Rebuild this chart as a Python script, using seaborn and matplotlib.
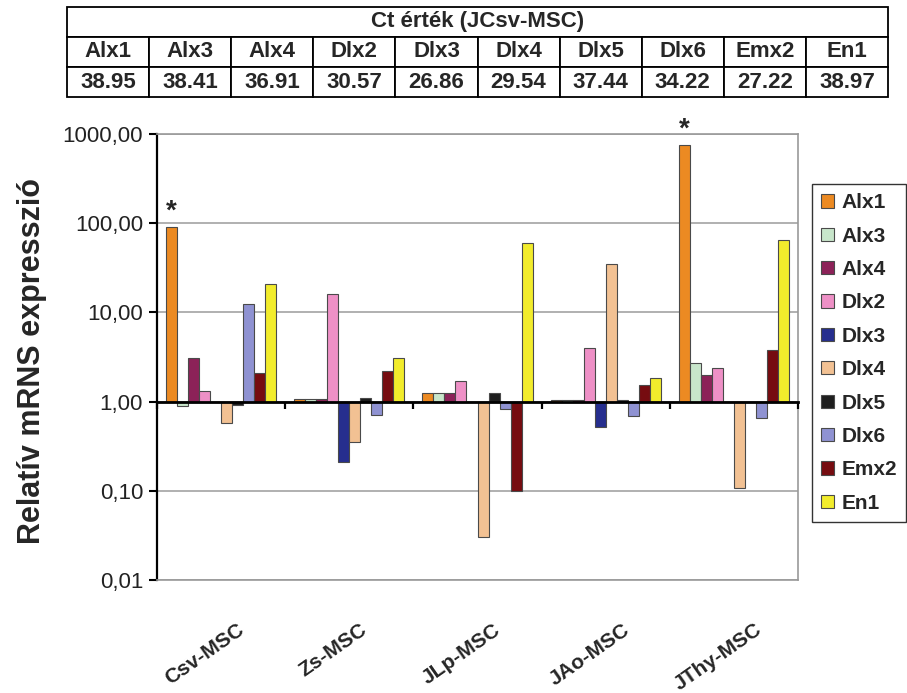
import numpy as np
import pandas as pd
import matplotlib
matplotlib.use("Agg")
import matplotlib.pyplot as plt
import matplotlib.transforms as mtransforms
import seaborn as sns

# ---------------- data ----------------
groups = ["Csv-MSC", "Zs-MSC", "JLp-MSC", "JAo-MSC", "JThy-MSC"]
genes = ["Alx1", "Alx3", "Alx4", "Dlx2", "Dlx3", "Dlx4", "Dlx5", "Dlx6", "Emx2", "En1"]

csv_msc = [90.0, 0.90, 3.1, 1.3, 1.0, 0.57, 0.92, 12.5, 2.1, 21.0]
zs_msc = [1.06, 1.06, 1.06, 16.0, 0.21, 0.355, 1.1, 0.71, 2.2, 3.1]
jlp_msc = [1.26, 1.26, 1.26, 1.7, 1.0, 0.030, 1.26, 0.82, 0.10, 60.0]
jao_msc = [1.03, 1.03, 1.03, 3.95, 0.515, 35.0, 1.03, 0.69, 1.53, 1.85]
jthy_msc = [750.0, 2.73, 2.0, 2.4, 1.0, 0.108, 1.0, 0.66, 3.75, 65.0]
series_values = [csv_msc, zs_msc, jlp_msc, jao_msc, jthy_msc]

star_groups = ["Csv-MSC", "JThy-MSC"]

ct_title = "Ct érték (JCsv-MSC)"
ct_values = [38.95, 38.41, 36.91, 30.57, 26.86, 29.54, 37.44, 34.22, 27.22, 38.97]

ytick_values = [0.01, 0.1, 1, 10, 100, 1000]
ytick_labels = ["0,01", "0,10", "1,00", "10,00", "100,00", "1000,00"]
y_label = "Relatív mRNS expresszió"

colors = ["#EC8A22", "#C8E6CB", "#8C2258", "#EE90C6", "#262E8E",
          "#F2C193", "#1E1E1E", "#8F92D2", "#760C10", "#F2EC2C"]

# ---------------- figure ----------------
sns.set_theme(style="white")
plt.rcParams["font.family"] = ["Liberation Sans", "DejaVu Sans"]

W, H = 907, 693
fig = plt.figure(figsize=(W / 100, H / 100), dpi=100)
fig.patch.set_facecolor("white")

ax = fig.add_axes([157 / W, 1 - 580 / H, 641 / W, 446 / H])

rows = []
for g, vals in zip(groups, series_values):
    for gene, v in zip(genes, vals):
        rows.append((g, gene, v))
df = pd.DataFrame(rows, columns=["group", "gene", "value"])
df["logv"] = np.log10(df["value"])

sns.barplot(data=df, x="group", y="logv", hue="gene", order=groups,
            hue_order=genes, palette=dict(zip(genes, colors)),
            width=0.86, gap=0, errorbar=None, edgecolor="#4a4a4a",
            linewidth=0.8, saturation=1, ax=ax, zorder=3)

ax.set_xlim(-0.5, len(groups) - 0.5)
ax.set_ylim(np.log10(ytick_values[0]), np.log10(ytick_values[-1]))
ax.set_yticks(np.log10(ytick_values))
ax.set_yticklabels(ytick_labels, fontsize=16)
ax.yaxis.grid(True, color="#a3a3a3", lw=1.2)
ax.xaxis.grid(False)
ax.set_axisbelow(True)

for s in ["top", "right", "bottom"]:
    ax.spines[s].set_color("#999999")
    ax.spines[s].set_linewidth(1.2)
ax.spines["left"].set_color("black")
ax.spines["left"].set_linewidth(1.6)
ax.tick_params(axis="y", direction="out", length=6, width=1.5,
               color="black", pad=4, left=True, labelcolor="#222222")

ax.set_xlabel("")
ax.set_xticks(range(len(groups)))
ax.set_xticklabels(groups, rotation=35, ha="center", va="top",
                   fontsize=15, fontweight="bold")
ax.tick_params(axis="x", length=0, pad=29)
offset = mtransforms.ScaledTranslation(-16 / 100, 0, fig.dpi_scale_trans)
for lbl in ax.get_xticklabels():
    lbl.set_transform(lbl.get_transform() + offset)

ax.set_ylabel(y_label, fontsize=22, fontweight="bold")
ax.yaxis.set_label_coords((47 - 157) / 641, 0.49)

# baseline (category axis crossing at 1,00)
base_pos = (0 - np.log10(ytick_values[0])) / (np.log10(ytick_values[-1]) - np.log10(ytick_values[0]))
sec = ax.secondary_xaxis(base_pos)
sec.set_xticks(np.arange(len(groups) + 1) - 0.5)
sec.tick_params(axis="x", direction="out", length=5, width=1.6,
                color="black", labelbottom=False, labeltop=False)
sec.spines["bottom"].set_visible(True)
sec.spines["bottom"].set_color("black")
sec.spines["bottom"].set_linewidth(2)
sec.set_zorder(5)

# asterisks
first = sorted(ax.containers[0].patches, key=lambda p: p.get_x())
for g in star_groups:
    p = first[groups.index(g)]
    ax.annotate("*", xy=(p.get_x() + p.get_width() / 2, p.get_y() + p.get_height()),
                xytext=(0, 2), textcoords="offset points", ha="center",
                va="bottom", fontsize=20, fontweight="bold")

# legend
sns.move_legend(ax, "upper left", bbox_to_anchor=(1.022, 0.888), frameon=True,
                title=None, prop={"weight": "bold", "size": 15},
                handlelength=0.6, handleheight=0.6, handletextpad=0.35,
                labelspacing=0.69, borderpad=0.45, fancybox=False,
                edgecolor="black", borderaxespad=0)
leg = ax.get_legend()
leg.get_frame().set_linewidth(1.0)

# table on top
tax = fig.add_axes([67 / W, 1 - 97 / H, 821 / W, 90 / H])
tax.axis("off")
t1 = tax.table(cellText=[[ct_title]], cellLoc="center", bbox=[0, 2 / 3, 1, 1 / 3])
t2 = tax.table(cellText=[genes, [f"{v:.2f}" for v in ct_values]],
               cellLoc="center", bbox=[0, 0, 1, 2 / 3])
for t, fs in [(t1, 16), (t2, 16)]:
    t.auto_set_font_size(False)
    for cell in t.get_celld().values():
        cell.set_edgecolor("black")
        cell.set_linewidth(1.3)
        cell.get_text().set_fontsize(fs)
        cell.get_text().set_fontweight("bold")

fig.savefig("out.png", dpi=100, facecolor="white")
